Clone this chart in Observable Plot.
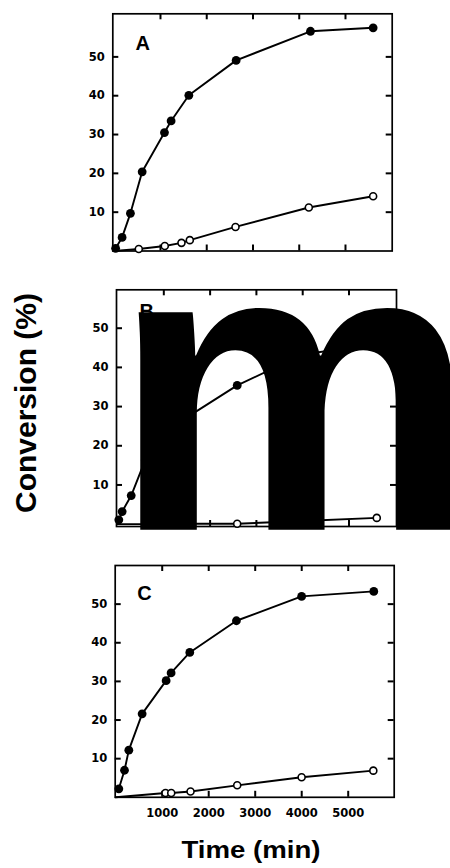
<!DOCTYPE html>
<html><head><meta charset="utf-8">
<script src="https://cdn.jsdelivr.net/npm/d3@7"></script>
<script src="https://cdn.jsdelivr.net/npm/@observablehq/plot@0.6"></script>
<style>
html,body{margin:0;padding:0;background:#fff;}
#wrap{position:relative;width:450px;height:868px;overflow:hidden;background:#fff;}
#wrap svg{position:absolute;left:0;}
.title{position:absolute;font-family:"Liberation Sans",Arial,sans-serif;font-weight:bold;color:#000;white-space:nowrap;text-align:center;}
</style></head><body>
<div id="wrap"></div>
<script>
// ---- tick labels / categories ----
const xTicks = [1000, 2000, 3000, 4000, 5000];
const yTicks = [10, 20, 30, 40, 50];
const panelLabels = ["A", "B", "C"];
const yTitle = "Conversion (%)";
const xTitle = "Time (min)";
const overlayText = "m";

// ---- panel A ----
const timeAFilled = [30, 170, 350, 604, 1086, 1230, 1613, 2636, 4243, 5598];
const convAFilled = [0.7, 3.5, 9.7, 20.4, 30.5, 33.5, 40.1, 49.1, 56.6, 57.5];
const timeAOpen = [0, 531, 1093, 1454, 1634, 2622, 4207, 5598];
const convAOpen = [0, 0.5, 1.3, 2.1, 2.8, 6.2, 11.2, 14.1];

// ---- panel B ----
const timeBFilled = [28, 100, 296, 600, 1100, 1230, 1600, 2585, 4000, 5600];
const convBFilled = [1.1, 3.2, 7.3, 16.4, 22.5, 24, 28, 35.4, 43.3, 46];
const timeBOpen = [0, 600, 1100, 1600, 2585, 4000, 5600];
const convBOpen = [0, 0, 0.1, 0.1, 0.1, 0.8, 1.6];

// ---- panel C ----
const timeCFilled = [67, 189, 282, 568, 1084, 1191, 1593, 2596, 3998, 5550];
const convCFilled = [2.2, 7, 12.2, 21.6, 30.2, 32.2, 37.5, 45.7, 52, 53.3];
const timeCOpen = [0, 1071, 1194, 1609, 2613, 3998, 5540];
const convCOpen = [0, 1.1, 1.1, 1.5, 3.1, 5.2, 6.9];

const pairs = (ts, vs) => ts.map((t, i) => ({t, v: vs[i]}));
const series = [
  {filled: pairs(timeAFilled, convAFilled), open: pairs(timeAOpen, convAOpen)},
  {filled: pairs(timeBFilled, convBFilled), open: pairs(timeBOpen, convBOpen)},
  {filled: pairs(timeCFilled, convCFilled), open: pairs(timeCOpen, convCOpen)}
];

// ---- layout (pixels) ----
const layout = [
  {top: 0,   height: 262, mt: 13.3, mb: 11.5, ml: 112.3, mr: 58.3, xd: [-31, 6010], yd: [0, 61.1], lx: 22.7, ly: 21.7},
  {top: 266, height: 282, mt: 23.3, mb: 22,   ml: 116,   mr: 54,   xd: [-22, 6026], yd: [-0.6, 59.8], lx: 23, ly: 14},
  {top: 550, height: 290, mt: 15,   mb: 43.2, ml: 114.7, mr: 56.3, xd: [-11, 5989], yd: [0, 60], lx: 22, ly: 20}
];

const TK = 6; // inward tick length (px)
const tickFont = {fontSize: 11.5, fontWeight: "bold", fontFamily: "DejaVu Sans", fill: "#000"};
const tickStyle = {stroke: "#000", strokeWidth: 2};
const wrap = document.getElementById("wrap");

layout.forEach((L, i) => {
  const {filled, open} = series[i];
  const fw = 450 - L.ml - L.mr;      // frame width
  const fh = L.height - L.mt - L.mb; // frame height
  const dxUnit = (L.xd[1] - L.xd[0]) / fw * TK; // tick length in x data units
  const dyUnit = (L.yd[1] - L.yd[0]) / fh * TK; // tick length in y data units
  const marks = [
    Plot.axisY(yTicks, {anchor: "left", tickSize: 0, tickPadding: 8, label: null, ...tickFont}),
    Plot.ruleY(yTicks, {y: d => d, x1: L.xd[0], x2: L.xd[0] + dxUnit, ...tickStyle}),
    Plot.ruleY(yTicks, {y: d => d, x1: L.xd[1] - dxUnit, x2: L.xd[1], ...tickStyle}),
    Plot.ruleX(xTicks, {x: d => d, y1: L.yd[0], y2: L.yd[0] + dyUnit, ...tickStyle}),
    Plot.ruleX(xTicks, {x: d => d, y1: L.yd[1] - dyUnit, y2: L.yd[1], ...tickStyle}),
    Plot.frame({stroke: "#000", strokeWidth: 1.7}),
    Plot.line(open, {x: "t", y: "v", stroke: "#000", strokeWidth: 1.9}),
    Plot.line(filled, {x: "t", y: "v", stroke: "#000", strokeWidth: 1.9}),
    Plot.dot(open, {x: "t", y: "v", r: 3.5, fill: "#fff", stroke: "#000", strokeWidth: 1.6, filter: d => d.t > 0}),
    Plot.dot(filled, {x: "t", y: "v", r: 4.4, fill: "#000"}),
    Plot.text([panelLabels[i]], {frameAnchor: "top-left", dx: L.lx, dy: L.ly, textAnchor: "start", lineAnchor: "top",
      fontSize: 20, fontWeight: "bold", fontFamily: "Liberation Sans", fill: "#000"})
  ];
  if (i === 2) {
    marks.push(Plot.axisX(xTicks, {anchor: "bottom", tickSize: 0, tickPadding: 12, label: null, tickFormat: d => String(d), ...tickFont}));
  }
  if (i === 1) {
    marks.push(Plot.text([overlayText], {frameAnchor: "bottom-left", dx: -5, dy: 3.3, textAnchor: "start", lineAnchor: "bottom",
      fontSize: 412, fontWeight: "bold", fontFamily: "Liberation Sans", fill: "#000"}));
  }
  const svg = Plot.plot({
    width: 450, height: L.height,
    marginTop: L.mt, marginBottom: L.mb, marginLeft: L.ml, marginRight: L.mr,
    x: {domain: L.xd, axis: i === 2 ? undefined : null},
    y: {domain: L.yd},
    style: {background: "transparent", overflow: "visible"},
    marks
  });
  svg.style.top = L.top + "px";
  wrap.appendChild(svg);
});

const yt = document.createElement("div");
yt.className = "title";
yt.textContent = yTitle;
Object.assign(yt.style, {left: (26.1 - 150) + "px", top: (403 - 15) + "px", width: "300px", height: "30px",
  fontSize: "30px", lineHeight: "30px", transform: "rotate(-90deg)"});
wrap.appendChild(yt);

const xt = document.createElement("div");
xt.className = "title";
xt.textContent = xTitle;
Object.assign(xt.style, {left: (251 - 150) + "px", top: "838px", width: "300px", height: "24px",
  fontSize: "24px", lineHeight: "24px", transform: "scaleX(1.15)"});
wrap.appendChild(xt);
</script>
</body></html>
